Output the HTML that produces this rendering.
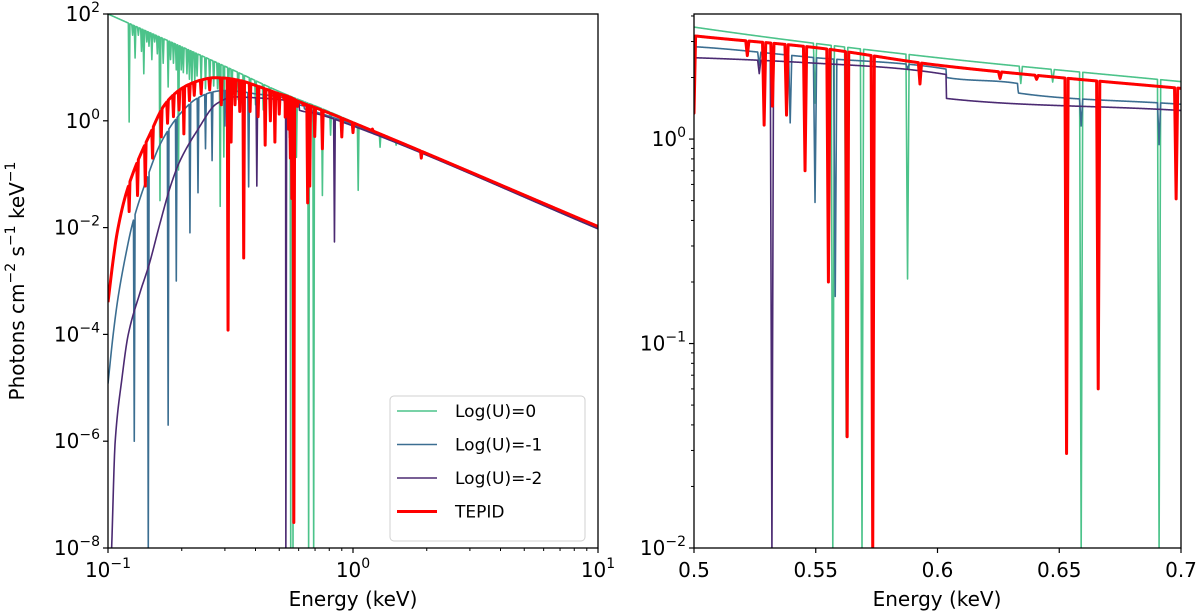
<!DOCTYPE html>
<html><head><meta charset="utf-8"><style>
html,body{margin:0;padding:0;background:#fff;width:1200px;height:616px;overflow:hidden;}
svg{display:block;font-family:"DejaVu Sans","Liberation Sans",sans-serif;overflow:hidden;}
</style></head><body>
<svg id="fig" width="1200" height="616" viewBox="0 0 1200 616" xmlns="http://www.w3.org/2000/svg">
<defs>
<clipPath id="clipL"><rect x="108" y="14" width="490" height="534"/></clipPath>
<clipPath id="clipR"><rect x="694" y="14" width="487" height="534"/></clipPath>
</defs>
<g id="left"></g>
<g id="right"></g>
</svg>
<script>
// ---- continuum knots (energy keV, flux) ----
const greenContE = [0.1, 0.3, 0.5, 0.6, 0.7, 1, 10];
const greenContF = [100, 10.5, 3.53, 2.5, 1.91, 0.95, 0.01];
const blueContE = [0.1, 0.105, 0.11, 0.118, 0.126, 0.143, 0.165, 0.197, 0.23, 0.27, 0.3, 0.35, 0.4, 0.5, 0.55, 0.6035, 0.6037, 0.633, 0.6331, 0.7, 1, 10];
const blueContF = [1.2e-5, 1e-4, 5e-4, 3e-3, 0.012, 0.075, 0.4, 1.35, 2.6, 3.5, 3.7, 3.5, 3.2, 2.83, 2.5, 2.2, 2.0, 1.87, 1.68, 1.48, 0.85, 0.0095];
const purpleContE = [0.1035, 0.107, 0.114, 0.121, 0.135, 0.147, 0.163, 0.18, 0.197, 0.231, 0.278, 0.326, 0.4, 0.5, 0.55, 0.6035, 0.6037, 0.7, 1, 10];
const purpleContF = [1e-8, 1e-6, 1.5e-5, 1e-4, 6e-4, 2e-3, 0.012, 0.06, 0.18, 0.65, 2.1, 2.8, 2.7, 2.5, 2.35, 2.07, 1.58, 1.38, 0.8, 0.0095];
const redContE = [0.1, 0.105, 0.109, 0.117, 0.126, 0.135, 0.148, 0.169, 0.19, 0.21, 0.24, 0.27, 0.3, 0.35, 0.4, 0.5, 0.55, 0.6, 0.65, 0.7, 1, 10];
const redContF = [4e-4, 2.5e-3, 0.008, 0.035, 0.1, 0.22, 0.55, 1.9, 3.4, 4.6, 5.8, 6.4, 6.3, 5.6, 4.6, 3.2, 2.8, 2.3, 2.0, 1.77, 0.92, 0.0105];
// ---- absorption lines (energy keV, minimum flux) ----
const greenLineE = [0.122,0.126,0.129,0.133,0.137,0.140,0.144,0.147,0.151,0.155,0.159,0.163,0.168,0.176,0.180,0.185,0.190,0.194,0.199,0.203,0.210,0.215,0.22,0.226,0.231,0.24,0.25,0.26,0.27,0.28,0.287,0.297,0.31,0.32,0.34,0.358,0.38,0.4,0.43,0.458,0.5497,0.557,0.5625,0.569,0.5877,0.6342,0.6473,0.659,0.691,0.75,0.81,0.9,1.05,1.29,1.5];
const greenLineF = [0.95,40,15,40,20,7.6,30,25,14,30,18,0.032,12,4.3,14,12,9,0.12,9,8,7.6,6,5,5.5,6.9,5,4,5,4.5,4,0.025,0.21,3,2,2.5,1.3,2,2,1.6,1.3,1.5,1e-9,0.035,1e-9,0.207,1.87,1.9,1e-9,1e-9,0.04,0.54,0.6,0.05,0.32,0.35];
const blueLineE = [0.128,0.146,0.176,0.19,0.216,0.233,0.25,0.266,0.3,0.375,0.5268,0.5395,0.5497,0.558,0.5877,0.659,0.691];
const blueLineF = [1e-6,1e-9,2e-6,1e-3,0.008,0.045,0.3,0.18,0.8,0.058,2.3,1.2,0.49,0.17,2.2,1.16,0.94];
const purpleLineE = [0.405,0.5268,0.532,0.84];
const purpleLineF = [0.06,2.09,1e-9,0.0054];
const redLineE = [0.122,0.132,0.142,0.152,0.165,0.175,0.185,0.195,0.204,0.215,0.225,0.24,0.26,0.29,0.309,0.318,0.33,0.345,0.358,0.38,0.41,0.438,0.46,0.48,0.5,0.5219,0.5288,0.5322,0.538,0.5456,0.5552,0.5629,0.5734,0.5928,0.6257,0.6407,0.653,0.666,0.698,0.75,0.9,1.0,1.2,1.9];
const redLineF = [0.02,0.04,0.06,0.2,0.5,0.9,1.2,1.6,0.57,2.4,3.0,3.2,3.8,2.0,1.2e-4,0.4,2,1.5,0.0027,1.5,1.2,0.35,1.0,0.4,1.34,2.56,1.17,1.45,1.31,0.7,0.2,0.035,3e-8,1.86,1.98,1.96,0.029,0.06,0.51,0.3,0.5,0.6,0.7,0.2];
// ---- ticks ----
const leftYTicks = [2, 0, -2, -4, -6, -8];
const leftXTicks = [-1, 0, 1];
const rightYTicks = [0, -1, -2];
const rightXTicks = [0.5, 0.55, 0.6, 0.65, 0.7];
const rightXLabels = ["0.5", "0.55", "0.6", "0.65", "0.7"];
const legendLabels = ["Log(U)=0", "Log(U)=-1", "Log(U)=-2", "TEPID"];

const NS = "http://www.w3.org/2000/svg";
function mk(tag, attrs, parent){const e=document.createElementNS(NS,tag);for(const k in attrs)e.setAttribute(k,attrs[k]);parent.appendChild(e);return e;}

const L = {x0:108,x1:598,y0:14,y1:548,lx0:-1,lx1:1,ly0:-8,ly1:2};
const R = {x0:694,x1:1181,y0:14,y1:548,e0:0.5,e1:0.7,ly0:-2,ly1:Math.log10(4.09)};
const xL = e => L.x0 + (Math.log10(e)-L.lx0)/(L.lx1-L.lx0)*(L.x1-L.x0);
const yL = f => L.y1 - (Math.log10(f)-L.ly0)/(L.ly1-L.ly0)*(L.y1-L.y0);
const xR = e => R.x0 + (e-R.e0)/(R.e1-R.e0)*(R.x1-R.x0);
const yR = f => R.y1 - (Math.log10(f)-R.ly0)/(R.ly1-R.ly0)*(R.y1-R.y0);
const invL = px => Math.pow(10, L.lx0 + (px-L.x0)/(L.x1-L.x0)*(L.lx1-L.lx0));
const invR = px => R.e0 + (px-R.x0)/(R.x1-R.x0)*(R.e1-R.e0);

function cont(E,F,e){
  const X=E.map(Math.log10), Y=F.map(Math.log10), x=Math.log10(e), n=X.length;
  if(x<=X[0]){const s=(Y[1]-Y[0])/(X[1]-X[0]);return Math.pow(10,Y[0]+s*(x-X[0]));}
  if(x>=X[n-1])return F[n-1];
  const d=[];for(let i=0;i<n-1;i++)d.push((Y[i+1]-Y[i])/(X[i+1]-X[i]));
  const m=[d[0]];for(let i=1;i<n-1;i++){m.push(d[i-1]*d[i]<=0?0:2/(1/d[i-1]+1/d[i]));}m.push(d[n-2]);
  let i=0;while(x>X[i+1])i++;
  const h=X[i+1]-X[i],t=(x-X[i])/h,t2=t*t,t3=t2*t;
  const y=(2*t3-3*t2+1)*Y[i]+(t3-2*t2+t)*h*m[i]+(-2*t3+3*t2)*Y[i+1]+(t3-t2)*h*m[i+1];
  return Math.pow(10,y);
}
function pathFor(CE,CF,LE,LF,xf,yf,inv,x0,x1,hw){
  const pts=[];
  const lx=LE.map(xf);
  const near=px=>lx.some(l=>Math.abs(l-px)<hw+0.3);
  for(let px=x0;px<=x1;px+=0.5){if(!near(px))pts.push([px,yf(cont(CE,CF,inv(px)))]);}
  LE.forEach((e,i)=>{const px=xf(e);if(px<x0||px>x1)return;
    pts.push([px-hw,yf(cont(CE,CF,inv(px-hw)))]);
    pts.push([px,yf(LF[i])]);
    pts.push([px+hw,yf(cont(CE,CF,inv(px+hw)))]);});
  pts.sort((a,b)=>a[0]-b[0]);
  return pts.map((p,i)=>(i?"L":"M")+Math.max(x0,Math.min(x1,p[0])).toFixed(2)+" "+Math.max(12,Math.min(552,p[1])).toFixed(2)).join("");
}
const series=[
 {name:"log-u-0",color:"#4cc38a",w:1.6,CE:greenContE,CF:greenContF,LE:greenLineE,LF:greenLineF},
 {name:"log-u-minus-1",color:"#3b6e91",w:1.6,CE:blueContE,CF:blueContF,LE:blueLineE,LF:blueLineF},
 {name:"log-u-minus-2",color:"#4b2a72",w:1.6,CE:purpleContE,CF:purpleContF,LE:purpleLineE,LF:purpleLineF},
 {name:"tepid",color:"#ff0000",w:3,CE:redContE,CF:redContF,LE:redLineE,LF:redLineF}
];
const gL=document.getElementById("left"), gR=document.getElementById("right");
const sL=mk("g",{"clip-path":"url(#clipL)"},gL);


const sR=mk("g",{"clip-path":"url(#clipR)"},gR);


series.forEach(s=>{
  const p1=mk("path",{d:pathFor(s.CE,s.CF,s.LE,s.LF,xL,yL,invL,L.x0,L.x1,0.8),fill:"none",stroke:s.color,"stroke-width":s.w,"stroke-linejoin":"round"},sL);
  
  
  const p2=mk("path",{d:pathFor(s.CE,s.CF,s.LE,s.LF,xR,yR,invR,R.x0,R.x1,1.6),fill:"none",stroke:s.color,"stroke-width":s.w,"stroke-linejoin":"round"},sR);
  
  
});
const fL=mk("rect",{x:L.x0,y:L.y0,width:L.x1-L.x0,height:L.y1-L.y0,fill:"none",stroke:"#000","stroke-width":1.3},gL);


const fR=mk("rect",{x:R.x0,y:R.y0,width:R.x1-R.x0,height:R.y1-R.y0,fill:"none",stroke:"#000","stroke-width":1.3},gR);



function powLabel(parent,x,y,exp,anchor,name){
  const t=mk("text",{x:x,y:y,"font-size":20,"text-anchor":anchor,fill:"#000"},parent);
  
  
  t.appendChild(document.createTextNode("10"));
  const s=mk("tspan",{"font-size":14,dy:-9},t);
  s.textContent=(exp<0?"\u2212":"")+Math.abs(exp);
  return t;
}
leftYTicks.forEach(k=>{const y=yL(Math.pow(10,k));
  mk("line",{x1:L.x0-5,x2:L.x0,y1:y,y2:y,stroke:"#000","stroke-width":1.2},gL);
  powLabel(gL,L.x0-8,y+7,k,"end","left-y-tick-label");});
leftXTicks.forEach(k=>{const x=xL(Math.pow(10,k));
  mk("line",{x1:x,x2:x,y1:L.y1,y2:L.y1+5,stroke:"#000","stroke-width":1.2},gL);
  powLabel(gL,x,L.y1+29,k,"middle","left-x-tick-label");
  if(k<1)for(let m=2;m<10;m++){const xm=xL(m*Math.pow(10,k));
    mk("line",{x1:xm,x2:xm,y1:L.y1,y2:L.y1+3,stroke:"#000","stroke-width":1},gL);}});
rightYTicks.forEach(k=>{const y=yR(Math.pow(10,k));
  mk("line",{x1:R.x0-5,x2:R.x0,y1:y,y2:y,stroke:"#000","stroke-width":1.2},gR);
  powLabel(gR,R.x0-8,y+7,k,"end","right-y-tick-label");
  for(let m=2;m<10;m++){const v=m*Math.pow(10,k);if(yR(v)<R.y0)continue;const ym=yR(v);
    mk("line",{x1:R.x0-3,x2:R.x0,y1:ym,y2:ym,stroke:"#000","stroke-width":1},gR);}});
rightXTicks.forEach((v,i)=>{const x=xR(v);
  mk("line",{x1:x,x2:x,y1:R.y1,y2:R.y1+5,stroke:"#000","stroke-width":1.2},gR);
  const t=mk("text",{x:x,y:R.y1+29,"font-size":20,"text-anchor":"middle"},gR);
  
  
  t.textContent=rightXLabels[i];});
const xtL=mk("text",{x:353,y:606,"font-size":20,"text-anchor":"middle"},gL);


xtL.textContent="Energy (keV)";
const xtR=mk("text",{x:937,y:606,"font-size":20,"text-anchor":"middle"},gR);


xtR.textContent="Energy (keV)";
const yt=mk("text",{x:0,y:0,"font-size":20,"text-anchor":"middle",transform:"translate(24,281) rotate(-90)"},gL);


[["Photons cm",null],["\u22122","sup"],[" s",null],["\u22121","sup"],[" keV",null],["\u22121","sup"]].forEach(([s,k])=>{
  const ts=mk("tspan",k?{"font-size":14,dy:-9}:{"font-size":20,dy:9},yt);
  if(!k&&s==="Photons cm")ts.setAttribute("dy",0);
  ts.textContent=s;});
const lg=mk("g",{},gL);


mk("rect",{x:390,y:396,width:195,height:145,rx:4,fill:"#fff","fill-opacity":0.85,stroke:"#d0d0d0","stroke-width":1},lg);
series.forEach((s,i)=>{const y=411+i*33.5;
  const e=mk("g",{},lg);
  
  
  mk("line",{x1:397,x2:437,y1:y,y2:y,stroke:s.color,"stroke-width":s.w},e);
  const t=mk("text",{x:455,y:y+6,"font-size":17},e);
  t.textContent=legendLabels[i];});
</script>
</body></html>
